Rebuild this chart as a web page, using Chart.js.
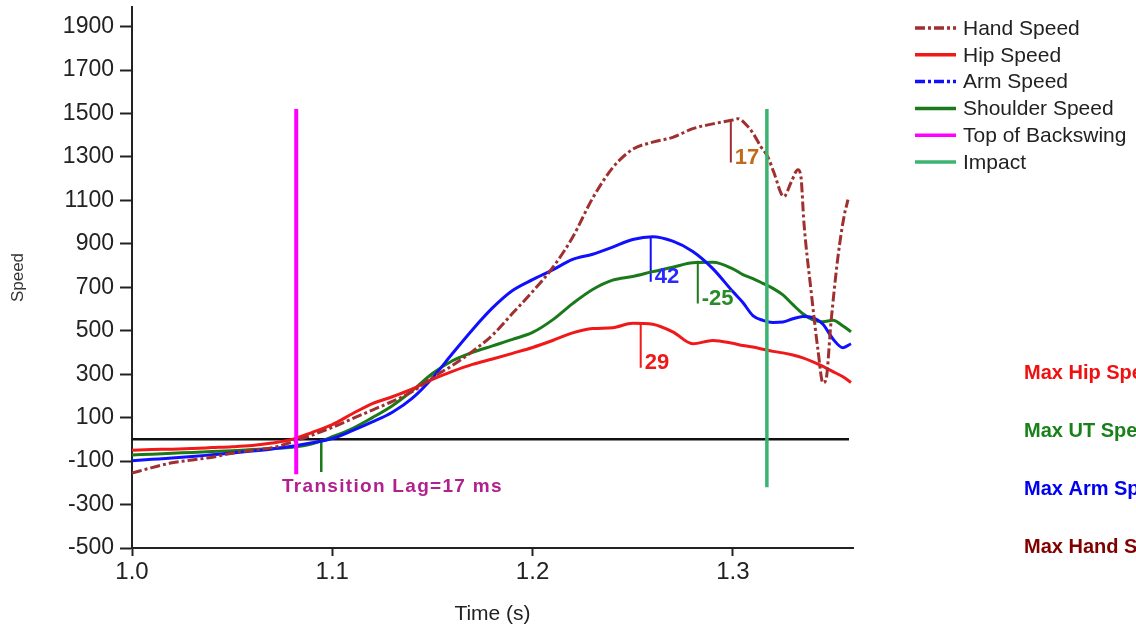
<!DOCTYPE html>
<html>
<head>
<meta charset="utf-8">
<script src="https://cdn.jsdelivr.net/npm/chart.js@4.4.1/dist/chart.umd.min.js"></script>
<style>
  html, body { margin: 0; padding: 0; background: #fff; }
  #wrap { width: 1136px; height: 632px; }
</style>
</head>
<body>
<div id="wrap"><canvas id="myChart" width="1136" height="632"></canvas></div>
<script>
// time axis (s) shared by hip / arm / shoulder
const times = [1.00, 1.01, 1.02, 1.03, 1.04, 1.05, 1.06, 1.07, 1.08, 1.09,
               1.10, 1.11, 1.12, 1.13, 1.14, 1.15, 1.16, 1.17, 1.18, 1.19,
               1.20, 1.21, 1.22, 1.23, 1.24, 1.25, 1.26, 1.27, 1.28, 1.29,
               1.30, 1.305, 1.31, 1.315, 1.32, 1.325, 1.33, 1.335, 1.34, 1.345,
               1.35, 1.355, 1.359];

const hipSpeed = [-50, -47, -45, -42, -38, -34, -28, -17, 0, 32,
                  68, 118, 165, 196, 232, 276, 313, 345, 370, 396,
                  423, 455, 490, 510, 514, 535, 530, 495, 440, 455,
                  442, 432, 425, 415, 405, 398, 388, 375, 357, 336,
                  312, 288, 262];

const armSpeed = [-98, -92, -86, -79, -71, -63, -54, -44, -32, -16,
                  4, 40, 80, 125, 190, 283, 395, 505, 605, 685,
                  735, 780, 828, 852, 885, 920, 933, 912, 865, 786,
                  680, 630, 570, 548, 538, 540, 555, 566, 560, 530,
                  462, 422, 440];

const shoulderSpeed = [-72, -68, -64, -60, -56, -52, -47, -42, -36, -20,
                       12, 50, 100, 155, 225, 303, 362, 400, 430, 460,
                       492, 550, 625, 690, 733, 750, 772, 792, 813, 815,
                       785, 758, 740, 718, 695, 665, 620, 578, 550, 541,
                       548, 522, 495];

// hand speed has its own, finer sampling near the end
const handTimes = [1.00, 1.01, 1.02, 1.03, 1.04, 1.05, 1.06, 1.07, 1.08, 1.09,
                   1.10, 1.11, 1.12, 1.13, 1.14, 1.15, 1.16, 1.17, 1.18, 1.19,
                   1.20, 1.21, 1.22, 1.23, 1.24, 1.25, 1.26, 1.27, 1.28, 1.29,
                   1.30, 1.3025, 1.3075, 1.31, 1.314, 1.3175, 1.3205, 1.3255, 1.329, 1.3325,
                   1.334, 1.3355, 1.339, 1.3425, 1.345, 1.3465, 1.349, 1.3525, 1.3555, 1.3575];

const handSpeed = [-155, -130, -108, -95, -82, -64, -50, -38, -12, 20,
                   55, 95, 135, 175, 220, 285, 340, 405, 480, 580,
                   680, 790, 930, 1110, 1250, 1335, 1368, 1390, 1430, 1452,
                   1470, 1476, 1440, 1410, 1347, 1300, 1228, 1117, 1181, 1241,
                   1209, 997, 689, 412, 260, 274, 537, 841, 1025, 1103];

// events
const backswingTime = 1.082;
const impactTime = 1.317;
const lagTime = 1.0945;

// max-speed markers: hand, arm, shoulder, hip
const markerTimes = [1.299, 1.259, 1.2825, 1.254];
const markerTop = [1472, 933, 822, 537];
const markerBottom = [1274, 726, 625, 330];
const markerLabels = ['17', '42', '-25', '29'];

const xTicks = [1.0, 1.1, 1.2, 1.3];
const yTicks = [-500, -300, -100, 100, 300, 500, 700, 900, 1100, 1300, 1500, 1700, 1900];

const FONT = "'Liberation Sans', Arial, sans-serif";
const cHand = '#a03030', cHip = '#f01818', cArm = '#1010ff', cShoulder = '#1a7a1a';
const cBack = '#ff00ff', cImpact = '#3cb371';
const markerColors = [cHand, cArm, cShoulder, cHip];
const labelColors = ['#c06a1a', '#2a2aff', '#2a8a2a', '#f01818'];

function pts(xs, ys) {
    return xs.map((t, i) => ({x: t, y: ys[i]}));
}
function vline(t, a, b) {
    return [{x: t, y: a}, {x: t, y: b}];
}

const datasets = [
    {label: 'Top of Backswing', data: vline(backswingTime, 1520, -160), borderColor: cBack, borderWidth: 4},
    {label: 'Impact', data: vline(impactTime, 1520, -220), borderColor: cImpact, borderWidth: 3.5},
    {label: 'Hand Speed', data: pts(handTimes, handSpeed), borderColor: cHand, borderWidth: 3, borderDash: [10, 3, 3, 3], cubicInterpolationMode: 'monotone'},
    {label: 'Hip Speed', data: pts(times, hipSpeed), borderColor: cHip, borderWidth: 3, cubicInterpolationMode: 'monotone'},
    {label: 'Arm Speed', data: pts(times, armSpeed), borderColor: cArm, borderWidth: 3, cubicInterpolationMode: 'monotone'},
    {label: 'Shoulder Speed', data: pts(times, shoulderSpeed), borderColor: cShoulder, borderWidth: 3, cubicInterpolationMode: 'monotone'},
    {label: 'lag', data: vline(lagTime, 0, -150), borderColor: cShoulder, borderWidth: 2.5}
];
for (let i = 0; i < markerTimes.length; i++) {
    datasets.push({label: 'm' + i, data: vline(markerTimes[i], markerTop[i], markerBottom[i]), borderColor: markerColors[i], borderWidth: 2});
}
datasets.push({label: 'zero', data: [{x: 1.0, y: 0}, {x: 1.358, y: 0}], borderColor: '#111', borderWidth: 2.5});

const legendItems = [
    {text: 'Hand Speed', color: cHand, dash: [10, 3, 3, 3]},
    {text: 'Hip Speed', color: cHip, dash: []},
    {text: 'Arm Speed', color: cArm, dash: [10, 3, 3, 3]},
    {text: 'Shoulder Speed', color: cShoulder, dash: []},
    {text: 'Top of Backswing', color: cBack, dash: []},
    {text: 'Impact', color: cImpact, dash: []}
];

const maxTexts = [
    {text: 'Max Hip Speed', color: '#f01010', y: 373},
    {text: 'Max UT Speed', color: '#1a801a', y: 431},
    {text: 'Max Arm Speed', color: '#0000f0', y: 489},
    {text: 'Max Hand Speed', color: '#800000', y: 547}
];

const extras = {
    id: 'extras',
    afterDraw(chart) {
        const ctx = chart.ctx;
        const xs = chart.scales.x, ys = chart.scales.y;
        ctx.save();
        // marker labels
        ctx.font = 'bold 22px ' + FONT;
        ctx.textAlign = 'left';
        ctx.textBaseline = 'alphabetic';
        for (let i = 0; i < markerTimes.length; i++) {
            ctx.fillStyle = labelColors[i];
            ctx.fillText(markerLabels[i], xs.getPixelForValue(markerTimes[i]) + 4, ys.getPixelForValue(markerBottom[i]) + 1);
        }
        // transition lag
        ctx.font = 'bold 19px ' + FONT;
        ctx.fillStyle = '#b0208e';
        ctx.textBaseline = 'middle';
        if ('letterSpacing' in ctx) ctx.letterSpacing = '1.3px';
        ctx.fillText('Transition Lag=17 ms', 282, 487);
        if ('letterSpacing' in ctx) ctx.letterSpacing = '0px';
        // legend
        ctx.font = '21px ' + FONT;
        legendItems.forEach((it, i) => {
            const y = 28 + i * 26.8;
            ctx.strokeStyle = it.color;
            ctx.lineWidth = 3.5;
            ctx.setLineDash(it.dash);
            ctx.beginPath();
            ctx.moveTo(915, y);
            ctx.lineTo(956, y);
            ctx.stroke();
            ctx.setLineDash([]);
            ctx.fillStyle = '#222';
            ctx.fillText(it.text, 963, y + 1);
        });
        // max texts on the right
        ctx.font = 'bold 20px ' + FONT;
        maxTexts.forEach(m => {
            ctx.fillStyle = m.color;
            ctx.fillText(m.text, 1024, m.y);
        });
        ctx.restore();
    }
};

const ctx = document.getElementById('myChart').getContext('2d');
const myChart = new Chart(ctx, {
    type: 'line',
    data: {datasets: datasets},
    options: {
        responsive: false,
        animation: false,
        elements: {point: {radius: 0}, line: {tension: 0, fill: false}},
        layout: {padding: {top: 7, right: 283, left: 0, bottom: 0}},
        plugins: {legend: {display: false}, tooltip: {enabled: false}},
        scales: {
            x: {
                type: 'linear',
                min: 1.0,
                max: 1.36,
                afterBuildTicks: (s) => { s.ticks = xTicks.map(v => ({value: v})); },
                afterFit: (s) => { s.height = 84; s.paddingLeft = 0; s.paddingRight = 0; },
                ticks: {color: '#222', font: {family: FONT, size: 24}, padding: 2, callback: (v) => Number(v).toFixed(1)},
                grid: {display: true, drawOnChartArea: false, tickLength: 8, tickWidth: 2, color: '#222'},
                border: {display: true, color: '#222', width: 2},
                title: {display: true, text: 'Time (s)', color: '#222', font: {family: FONT, size: 21}, padding: {top: 0, bottom: 5}}
            },
            y: {
                min: -500,
                max: 1990,
                afterBuildTicks: (s) => { s.ticks = yTicks.map(v => ({value: v})); },
                afterFit: (s) => { s.width = 132; s.paddingTop = 0; s.paddingBottom = 0; },
                ticks: {color: '#222', font: {family: FONT, size: 23}, padding: 6, callback: (v) => String(v)},
                grid: {display: true, drawOnChartArea: false, tickLength: 12, tickWidth: 2, color: '#222'},
                border: {display: true, color: '#222', width: 2},
                title: {display: true, text: 'Speed', color: '#333', font: {family: FONT, size: 17}, padding: {top: 8, bottom: 0}}
            }
        }
    },
    plugins: [extras]
});
</script>
</body>
</html>
